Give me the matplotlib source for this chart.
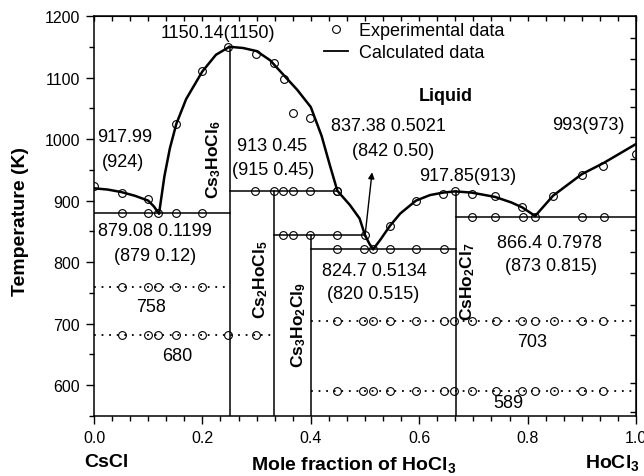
import matplotlib
matplotlib.use("Agg")
import matplotlib.pyplot as plt
from matplotlib.ticker import MultipleLocator, NullFormatter
from matplotlib.lines import Line2D

plt.rcParams["font.family"] = "Liberation Sans"
plt.rcParams["mathtext.fontset"] = "custom"
plt.rcParams["mathtext.rm"] = "Liberation Sans"
plt.rcParams["mathtext.bf"] = "Liberation Sans:bold"
plt.rcParams["mathtext.it"] = "Liberation Sans:italic"

# calculated liquidus branches (x = mole fraction HoCl3, T in K)
liq1_x = [0.0, 0.025, 0.05, 0.075, 0.1, 0.11, 0.12]
liq1_T = [920, 918, 914, 908, 900, 891, 879]
liq2_x = [0.12, 0.13, 0.14, 0.152, 0.17, 0.2, 0.225, 0.25]
liq2_T = [879, 940, 985, 1025, 1065, 1110, 1137, 1150]
liq3_x = [0.25, 0.275, 0.3, 0.325, 0.35, 0.375, 0.4, 0.42, 0.435, 0.449, 0.472, 0.49, 0.5, 0.508, 0.515]
liq3_T = [1150, 1148, 1143, 1128, 1104, 1080, 1052, 1005, 958, 916, 893, 871, 844, 830, 821]
liq4_x = [0.515, 0.528, 0.546, 0.565, 0.594, 0.62, 0.644, 0.666, 0.697, 0.74, 0.77, 0.79, 0.814]
liq4_T = [821, 836, 859, 879, 900, 909, 913, 915, 913, 906, 897, 889, 875]
liq5_x = [0.814, 0.847, 0.9, 0.94, 1.0]
liq5_T = [875, 908, 943, 961, 992]

# invariant lines
iso_T = [880, 915, 844, 822, 873]
iso_x0 = [0.0, 0.25, 0.333, 0.4, 0.667]
iso_x1 = [0.25, 0.449, 0.5, 0.667, 1.0]
dot_T = [759, 681, 704, 590]
dot_x0 = [0.0, 0.0, 0.4, 0.4]
dot_x1 = [0.25, 0.333, 1.0, 1.0]
comp_x = [0.25, 0.333, 0.4, 0.667]
comp_top = [1150, 915, 844, 915]

# experimental points
exp_liq_x = [0.0, 0.052, 0.1, 0.151, 0.199, 0.248, 0.298, 0.332, 0.35, 0.368, 0.399,
             0.449, 0.546, 0.594, 0.644, 0.666, 0.697, 0.74, 0.79, 0.847, 0.9, 0.94, 1.0]
exp_liq_T = [924, 912, 903, 1025, 1110, 1150, 1138, 1123, 1097, 1042, 1035,
             916, 859, 900, 911, 915, 911, 907, 889, 908, 941, 957, 975]
exp_880_x = [0.052, 0.1, 0.119, 0.151, 0.199]
exp_915_x = [0.297, 0.332, 0.349, 0.367, 0.399, 0.449]
exp_844_x = [0.349, 0.367, 0.399, 0.449, 0.5]
exp_822_x = [0.449, 0.498, 0.514, 0.546, 0.594, 0.646]
exp_873_x = [0.697, 0.74, 0.791, 0.814, 0.9, 0.941]
exp_759_x = [0.052, 0.1, 0.119, 0.151, 0.199]
exp_681_x = [0.052, 0.1, 0.119, 0.151, 0.199, 0.248, 0.298]
exp_low_x = [0.449, 0.497, 0.514, 0.546, 0.594, 0.646, 0.665, 0.697, 0.741, 0.79,
             0.814, 0.849, 0.9, 0.94]

right_ticks = [1165, 1130, 1082, 1052, 1003, 968, 917, 852, 817, 782, 730, 682, 603, 557]

fig = plt.figure(figsize=(6.44, 4.77), dpi=100)
ax = fig.add_axes([94 / 644, 60 / 477, 542 / 644, 400 / 477])

for xs, ts in [(liq1_x, liq1_T), (liq2_x, liq2_T), (liq3_x, liq3_T), (liq4_x, liq4_T), (liq5_x, liq5_T)]:
    ax.plot(xs, ts, color="black", lw=1.8, solid_capstyle="round")

for t, a, b in zip(iso_T, iso_x0, iso_x1):
    ax.plot([a, b], [t, t], color="black", lw=1.1)
for t, a, b in zip(dot_T, dot_x0, dot_x1):
    ax.plot([a, b], [t, t], color="black", lw=1.3, linestyle=(0, (1.0, 3.2)))
for x, top in zip(comp_x, comp_top):
    ax.plot([x, x], [550, top], color="black", lw=1.1)

mk = dict(marker="o", linestyle="none", markersize=5.6, markerfacecolor="none",
          markeredgecolor="black", markeredgewidth=0.8)
ax.plot(exp_liq_x, exp_liq_T, **mk)
for xs, t in [(exp_880_x, 880), (exp_915_x, 915), (exp_844_x, 844), (exp_822_x, 822),
              (exp_873_x, 873), (exp_759_x, 759), (exp_681_x, 681),
              (exp_low_x, 704), (exp_low_x, 590)]:
    ax.plot(xs, [t] * len(xs), **mk)

ax.annotate("", xy=(0.513, 946), xytext=(0.5, 842),
            arrowprops=dict(arrowstyle="-|>", color="black", lw=1.0,
                            mutation_scale=9, shrinkA=0, shrinkB=0))

fs = 13
labels = [
    ("1150.14(1150)", 0.229, 1174),
    ("917.99", 0.057, 1004), ("(924)", 0.053, 963),
    ("913 0.45", 0.329, 990), ("(915 0.45)", 0.331, 951),
    ("837.38 0.5021", 0.543, 1022), ("(842 0.50)", 0.552, 982),
    ("917.85(913)", 0.689, 941),
    ("993(973)", 0.912, 1023),
    ("879.08 0.1199", 0.113, 852), ("(879 0.12)", 0.113, 811),
    ("824.7 0.5134", 0.518, 787), ("(820 0.515)", 0.515, 749),
    ("866.4 0.7978", 0.84, 832), ("(873 0.815)", 0.844, 794),
    ("758", 0.106, 728), ("680", 0.153, 649), ("703", 0.808, 671), ("589", 0.764, 572),
]
for s, x, y in labels:
    ax.text(x, y, s, fontsize=fs, ha="center", va="center")
ax.text(0.649, 1071, "Liquid", fontsize=fs, fontweight="bold", ha="center", va="center")

compounds = [
    (r"Cs$_\mathbf{3}$HoCl$_\mathbf{6}$", 0.221, 968),
    (r"Cs$_\mathbf{2}$HoCl$_\mathbf{5}$", 0.307, 773),
    (r"Cs$_\mathbf{3}$Ho$_\mathbf{2}$Cl$_\mathbf{9}$", 0.378, 700),
    (r"CsHo$_\mathbf{2}$Cl$_\mathbf{7}$", 0.689, 769),
]
for s, x, y in compounds:
    ax.text(x, y, s, fontsize=12.5, fontweight="bold", rotation=90, ha="center", va="center")

ax.set_xlim(0, 1)
ax.set_ylim(550, 1200)
ax.xaxis.set_major_locator(MultipleLocator(0.2))
ax.xaxis.set_minor_locator(MultipleLocator(0.2 / 6))
ax.yaxis.set_major_locator(MultipleLocator(100))
ax.yaxis.set_minor_locator(MultipleLocator(50))
ax.set_xticks([0, 0.2, 0.4, 0.6, 0.8, 1.0])
ax.set_xticklabels(["0.0", "0.2", "0.4", "0.6", "0.8", "1.0"])
ax.tick_params(which="major", direction="out", length=6, width=1, labelsize=11.5, pad=4)
ax.tick_params(which="minor", direction="out", length=3.5, width=1)
ax.tick_params(axis="y", pad=4)
for sp in ax.spines.values():
    sp.set_linewidth(1.1)

top = ax.secondary_xaxis("top")
top.xaxis.set_major_locator(MultipleLocator(0.2 / 6))
top.xaxis.set_major_formatter(NullFormatter())
top.tick_params(direction="in", length=3.5, width=1)
right = ax.secondary_yaxis("right")
right.set_yticks(right_ticks)
right.yaxis.set_major_formatter(NullFormatter())
right.tick_params(direction="in", length=4, width=1)

ax.text(-0.1365, 0.4875, "Temperature (K)", transform=ax.transAxes, rotation=90,
        fontsize=14, fontweight="bold", ha="center", va="center")
ax.text(0.48, -0.12, r"Mole fraction of HoCl$_\mathbf{3}$", transform=ax.transAxes,
        fontsize=14, fontweight="bold", ha="center", va="center")
ax.text(0.022, -0.115, "CsCl", transform=ax.transAxes,
        fontsize=14, fontweight="bold", ha="center", va="center")
ax.text(0.957, -0.115, r"HoCl$_\mathbf{3}$", transform=ax.transAxes,
        fontsize=14, fontweight="bold", ha="center", va="center")

handles = [Line2D([], [], **mk), Line2D([], [], color="black", lw=1.3)]
ax.legend(handles, ["Experimental data", "Calculated data"], loc="upper left",
          bbox_to_anchor=(0.425, 0.985), frameon=False, fontsize=13,
          handlelength=1.3, handletextpad=0.6, labelspacing=0.3,
          borderpad=0, borderaxespad=0)

fig.savefig("out.png", dpi=100)
